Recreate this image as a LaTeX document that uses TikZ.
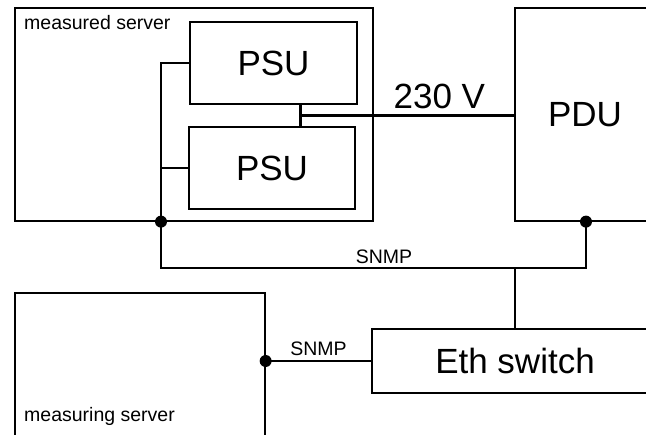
\documentclass[tikz,border=0pt]{standalone}
\usepackage{fontspec}
\setmainfont{Liberation Sans}
\tikzset{
box/.style={draw, line width=1.3pt, rectangle, inner sep=0pt},
bigtext/.style={font=\fontsize{35}{40}\selectfont},
smalltext/.style={font=\fontsize{19.5}{22}\selectfont},
wire/.style={line width=1.3pt},
power/.style={line width=3pt},
junction/.style={fill, circle, inner sep=0pt, minimum size=12pt}
}

\begin{document}
\begin{tikzpicture}[x=1pt, y=-1pt]
	\useasboundingbox (0,0) rectangle (646,435);
	\clip (0,0) rectangle (646,435);
	% boxes
	\node[box, minimum width=358pt, minimum height=213pt] (server) at (194,114.5) {};
	\node[smalltext, anchor=base west, inner sep=0pt] (serverlabel) at (24,30) {measured server};
	\node[box, bigtext, minimum width=167pt, minimum height=82pt] (psuA) at (273.5,63) {PSU};
	\node[box, bigtext, minimum width=166pt, minimum height=82pt] (psuB) at (272,168) {PSU};
	\node[box, bigtext, minimum width=140pt, minimum height=213pt] (pdu) at (585,114.5) {PDU};
	\node[box, bigtext, minimum width=286pt, minimum height=64pt] (switch) at (515,361) {Eth switch};
	\node[box, minimum width=250pt, minimum height=160pt] (measuring) at (140,373) {};
	\node[smalltext, anchor=base west, inner sep=0pt] (measuringlabel) at (24,422) {measuring server};
	% power feed
	\coordinate (feed) at (300,115.5);
	\draw[power] (psuA.south -| feed) -- (psuB.north -| feed);
	\draw[power] (feed) -- (feed -| pdu.west)
		node[pos=0.65, above=5pt, bigtext, inner sep=0pt] {230 V};
	% management network
	\coordinate (busL) at (161,268);
	\coordinate (busR) at (586,268);
	\draw[wire] (psuA.west) -| (busL) -- (busR) -- (busR |- pdu.south);
	\node[smalltext, above=1pt] (snmpbus) at (384,268) {SNMP};
	\draw[wire] (psuB.west) -- (psuB.west -| busL);
	\node[junction] (tapL) at (busL |- server.south) {};
	\node[junction] (tapR) at (busR |- pdu.south) {};
	\draw[wire] (switch.north) -- (switch.north |- busL);
	\draw[wire] (switch.west -| measuring.east) -- (switch.west)
		node[midway, above=1pt, smalltext] {SNMP};
	\node[junction] (tapM) at (switch.west -| measuring.east) {};
\end{tikzpicture}
\end{document}
